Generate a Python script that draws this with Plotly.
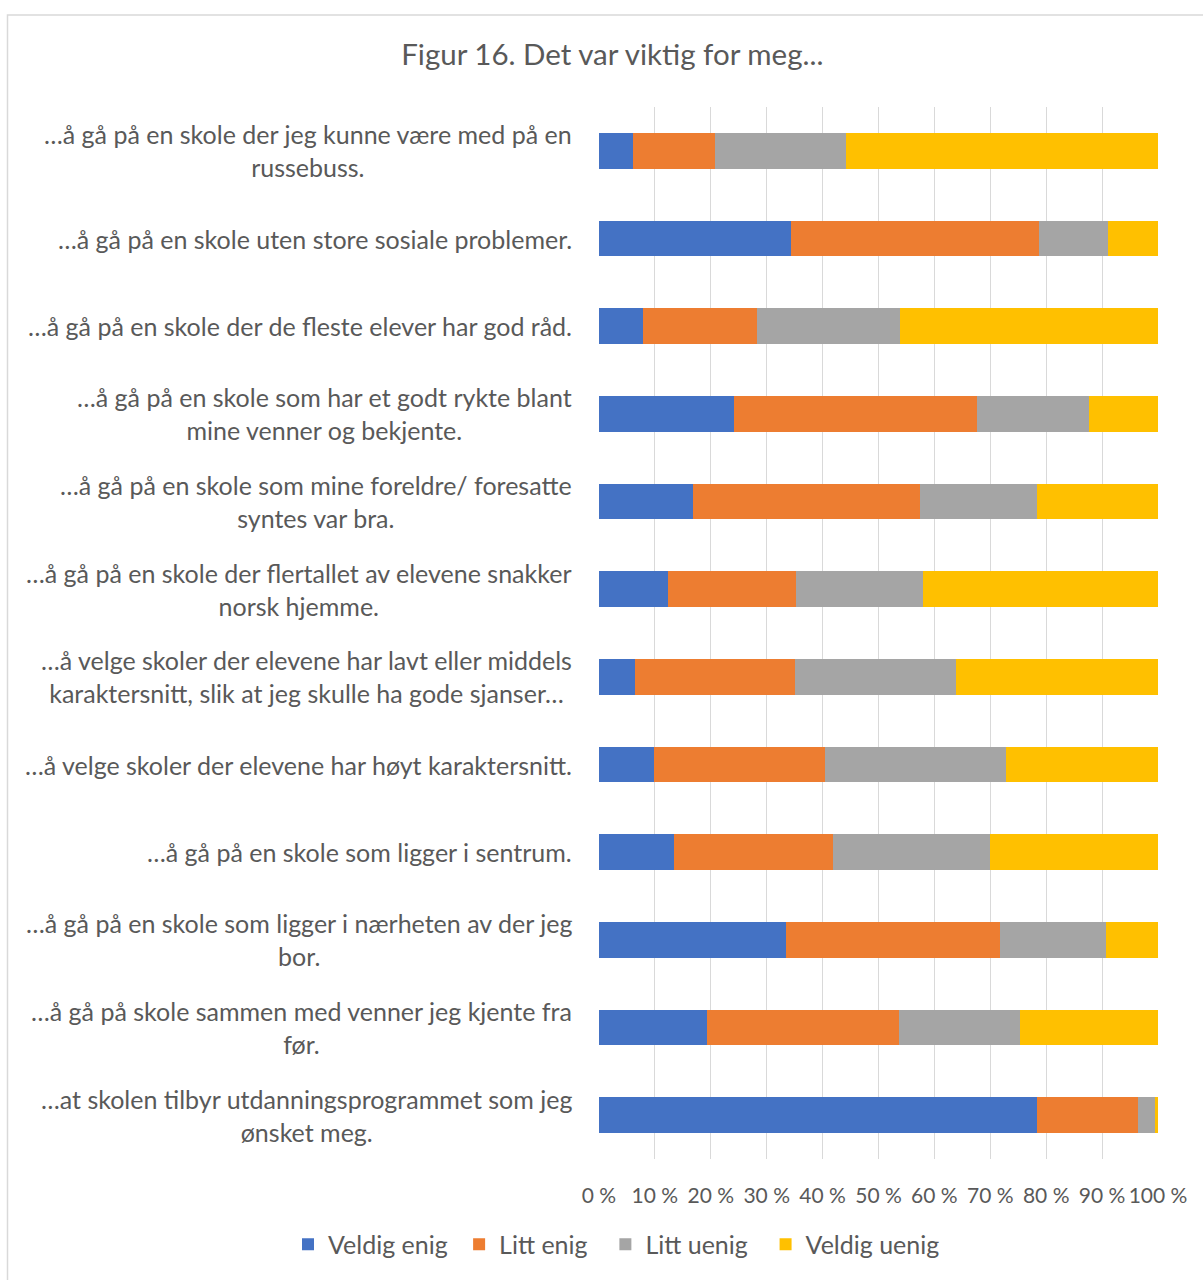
import plotly.graph_objects as go

# categories, top to bottom as in the figure
categories = [
    "…å gå på en skole der jeg kunne være med på en<br>russebuss.",
    "…å gå på en skole uten store sosiale problemer.",
    "…å gå på en skole der de fleste elever har god råd.",
    "…å gå på en skole som har et godt rykte blant<br>mine venner og bekjente.",
    "…å gå på en skole som mine foreldre/ foresatte<br>syntes var bra.",
    "…å gå på en skole der flertallet av elevene snakker<br>norsk hjemme.",
    "…å velge skoler der elevene har lavt eller middels<br>karaktersnitt, slik at jeg skulle ha gode sjanser…",
    "…å velge skoler der elevene har høyt karaktersnitt.",
    "…å gå på en skole som ligger i sentrum.",
    "…å gå på en skole som ligger i nærheten av der jeg<br>bor.",
    "…å gå på skole sammen med venner jeg kjente fra<br>før.",
    "…at skolen tilbyr utdanningsprogrammet som jeg<br>ønsket meg.",
]

veldig_enig = [6.0, 34.4, 7.9, 24.2, 16.8, 12.3, 6.5, 9.9, 13.5, 33.4, 19.4, 78.3]
litt_enig = [14.8, 44.4, 20.3, 43.4, 40.6, 23.0, 28.5, 30.6, 28.4, 38.3, 34.2, 18.1]
litt_uenig = [23.3, 12.2, 25.7, 20.0, 21.0, 22.6, 28.8, 32.3, 28.0, 19.0, 21.8, 3.1]
veldig_uenig = [55.9, 9.0, 46.1, 12.4, 21.6, 42.1, 36.2, 27.2, 30.1, 9.3, 24.6, 0.5]

x_ticks = [0, 10, 20, 30, 40, 50, 60, 70, 80, 90, 100]
x_tick_labels = [f"{v} %" for v in x_ticks]

series = [
    ("Veldig enig", veldig_enig, "#4472C4"),
    ("Litt enig", litt_enig, "#ED7D31"),
    ("Litt uenig", litt_uenig, "#A5A5A5"),
    ("Veldig uenig", veldig_uenig, "#FFC000"),
]
# extra space after each legend entry (non-breaking spaces) to match the spacing
legend_pad = [1, 2, 2, 0]

FONT = "Lato"
TXT = "#595959"

W, H = 1203, 1280
L, R, T, B = 599, 1158, 107, 1164  # plot area in pixels


def px_x(p):
    return (p - L) / (R - L)


def px_y(p):
    return (B - p) / (B - T)


fig = go.Figure()
for (name, vals, color), pad in zip(series, legend_pad):
    fig.add_trace(go.Bar(
        y=categories, x=vals, name=name + "\u00a0" * pad, orientation="h",
        marker=dict(color=color, line=dict(width=0)),
    ))

for cat in categories:
    fig.add_annotation(
        x=0, xref="paper", xshift=-25, xanchor="right",
        y=cat, yref="y", yanchor="middle",
        text=cat, showarrow=False, align="center",
        font=dict(family=FONT, size=25, color=TXT),
    )

# chart frame
fig.add_shape(
    type="rect", xref="paper", yref="paper", layer="below",
    x0=px_x(7.5), x1=px_x(1230), y0=px_y(1300), y1=px_y(14.5),
    line=dict(color="#D9D9D9", width=1.5), fillcolor="rgba(0,0,0,0)",
)

fig.update_layout(
    width=W, height=H,
    margin=dict(l=L, r=W - R, t=T, b=H - B),
    barmode="stack", bargap=0.59,
    paper_bgcolor="white", plot_bgcolor="white",
    font=dict(family=FONT, size=21, color=TXT),
    title=dict(
        text="Figur 16. Det var viktig for meg...",
        x=0.509, xanchor="center", xref="container",
        y=1 - 55 / H, yanchor="middle", yref="container",
        font=dict(family=FONT, size=29.5, color=TXT),
    ),
    legend=dict(
        orientation="h", xref="paper", x=px_x(288), xanchor="left",
        yref="paper", y=px_y(1250), yanchor="middle",
        font=dict(family=FONT, size=25, color=TXT),
        traceorder="normal", itemwidth=30,
    ),
    xaxis=dict(
        range=[0, 100], tickmode="array", tickvals=x_ticks,
        ticktext=x_tick_labels,
        showgrid=True, gridcolor="#D9D9D9", gridwidth=1,
        zeroline=False, showline=False, ticks="",
        ticklabelstandoff=22, fixedrange=True,
        tickfont=dict(family=FONT, size=21, color=TXT),
    ),
    yaxis=dict(
        autorange="reversed", showticklabels=False, ticks="",
        showgrid=False, zeroline=False, showline=False, fixedrange=True,
    ),
)

fig.write_html(
    "out.html",
    config={"displayModeBar": False},
    post_script="document.body.style.margin='0';",
)
